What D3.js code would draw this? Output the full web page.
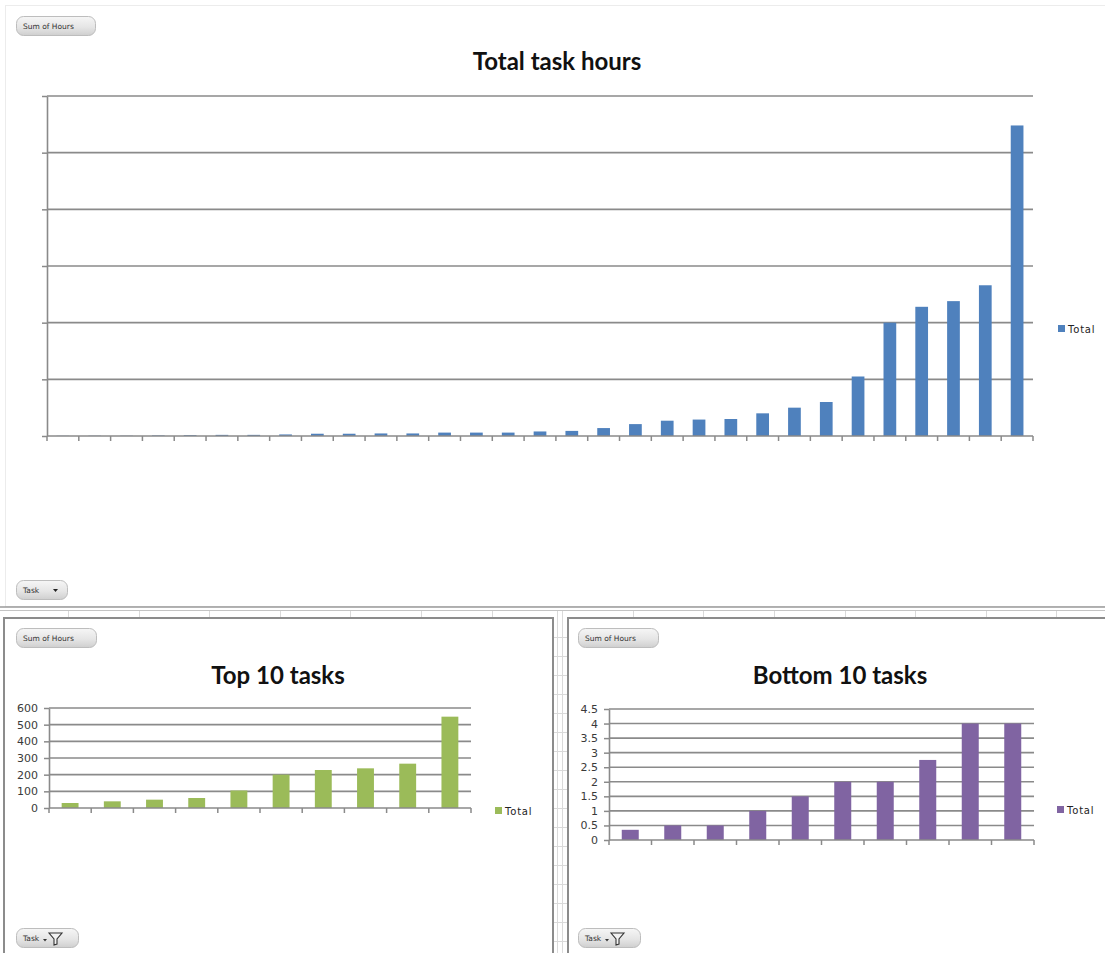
<!DOCTYPE html>
<html>
<head>
<meta charset="utf-8">
<script src="https://cdn.jsdelivr.net/npm/d3@7/dist/d3.min.js"></script>
<style>
  html, body { margin: 0; padding: 0; background: #fff; }
  svg { display: block; }
</style>
</head>
<body>
<svg id="sheet" width="1105" height="953"></svg>
<script>
// ---- Data: tasks sorted by total hours, ascending ----
const taskIds = ["T01","T02","T03","T04","T05","T06","T07","T08","T09","T10",
                 "T11","T12","T13","T14","T15","T16","T17","T18","T19","T20",
                 "T21","T22","T23","T24","T25","T26","T27","T28","T29","T30","T31"];
const totalHours = [0.35, 0.5, 0.5, 1, 1.5, 2, 2, 2.75, 4, 4,
                    4.5, 4.5, 6, 6, 6, 8, 9, 14, 21, 27,
                    29, 30, 40, 50, 60, 105, 200, 228, 238, 266, 548];

const topTaskIds = ["T22","T23","T24","T25","T26","T27","T28","T29","T30","T31"];
const topTaskHours = [30, 40, 50, 60, 105, 200, 228, 238, 266, 548];

const bottomTaskIds = ["T01","T02","T03","T04","T05","T06","T07","T08","T09","T10"];
const bottomTaskHours = [0.35, 0.5, 0.5, 1, 1.5, 2, 2, 2.75, 4, 4];

const hourTicks = [0, 100, 200, 300, 400, 500, 600];
const smallHourTicks = [0, 0.5, 1, 1.5, 2, 2.5, 3, 3.5, 4, 4.5];
const seriesName = "Total";

// ---- Styling ----
const GRID = "#8a8a8a";
const svg = d3.select("#sheet");

// ---- Worksheet backdrop: frames and cell grid ----
const back = svg.append("g");
back.append("rect").attr("x", 5.5).attr("y", 5.5).attr("width", 1110).attr("height", 601)
  .attr("fill", "#fff").attr("stroke", "#ececec");
back.append("line").attr("x1", 0).attr("x2", 1105).attr("y1", 607).attr("y2", 607)
  .attr("stroke", "#9a9a9a").attr("stroke-width", 1.5);
back.append("line").attr("x1", 0).attr("x2", 1105).attr("y1", 610.5).attr("y2", 610.5)
  .attr("stroke", "#c4c4c4");
// column separators in the strip between frames
const colLines = d3.range(68, 1105, 70.6);
back.selectAll("line.col").data(colLines).join("line").attr("class", "col")
  .attr("x1", d => Math.round(d) + 0.5).attr("x2", d => Math.round(d) + 0.5)
  .attr("y1", 611).attr("y2", 618).attr("stroke", "#dadada");
// narrow gap between the two lower frames
[557.5, 562.5].forEach(x => back.append("line").attr("x1", x).attr("x2", x)
  .attr("y1", 611).attr("y2", 953).attr("stroke", "#dadada"));
d3.range(637, 953, 19).forEach(y => back.append("line").attr("x1", 553).attr("x2", 568)
  .attr("y1", y + 0.5).attr("y2", y + 0.5).attr("stroke", "#dadada"));

// lower frames
back.append("rect").attr("x", 4).attr("y", 618).attr("width", 549).attr("height", 345)
  .attr("fill", "#fff").attr("stroke", "#8c8c8c").attr("stroke-width", 2);
back.append("rect").attr("x", 568).attr("y", 618).attr("width", 550).attr("height", 345)
  .attr("fill", "#fff").attr("stroke", "#8c8c8c").attr("stroke-width", 2);

// ---- Pivot field buttons ----
const defs = svg.append("defs");
const grad = defs.append("linearGradient").attr("id", "btnGrad")
  .attr("x1", 0).attr("x2", 0).attr("y1", 0).attr("y2", 1);
grad.append("stop").attr("offset", "0%").attr("stop-color", "#f6f6f6");
grad.append("stop").attr("offset", "55%").attr("stop-color", "#e6e6e6");
grad.append("stop").attr("offset", "100%").attr("stop-color", "#cfcfcf");

function fieldButton(x, y, w, label, kind) {
  const g = svg.append("g").attr("transform", `translate(${x},${y})`);
  g.append("rect").attr("x", 0.5).attr("y", 0.5).attr("width", w).attr("height", 19)
    .attr("rx", 7).attr("fill", "url(#btnGrad)").attr("stroke", "#bdbdbd");
  g.append("text").attr("x", 7).attr("y", 12.5).attr("font-family", "DejaVu Sans")
    .attr("font-size", 7.5).attr("fill", "#333").text(label);
  if (kind === "dropdown") {
    g.append("path").attr("d", "M37,9 L42,9 L39.5,12 Z").attr("fill", "#222");
  } else if (kind === "filter") {
    g.append("path").attr("d", "M27,11 L31,11 L29,13.5 Z").attr("fill", "#333");
    g.append("path").attr("d", "M33,5 L46,5 L41,11 L41,16 L38,17 L38,11 Z")
      .attr("fill", "#f2f2f2").attr("stroke", "#333").attr("stroke-width", 1.1);
  }
}
fieldButton(16, 16, 79, "Sum of Hours");
fieldButton(16, 580, 51, "Task", "dropdown");
fieldButton(16, 628, 80, "Sum of Hours");
fieldButton(578, 628, 80, "Sum of Hours");
fieldButton(16, 928, 62, "Task", "filter");
fieldButton(578, 928, 62, "Task", "filter");

// ---- Column chart drawing ----
function columnChart(cfg) {
  const g = svg.append("g");
  const slots = d3.scaleBand().domain(cfg.ids).range([cfg.x0, cfg.x1]).padding(0);
  const x = d3.scaleBand().domain(cfg.ids).range([cfg.x0, cfg.x1])
    .paddingInner(0.6).paddingOuter(0.3);
  const y = d3.scaleLinear().domain([0, d3.max(cfg.ticks)]).range([cfg.y1, cfg.y0]);

  // horizontal gridlines
  g.append("g").selectAll("line").data(cfg.ticks.filter(t => t > 0)).join("line")
    .attr("x1", cfg.x0).attr("x2", cfg.x1)
    .attr("y1", d => y(d)).attr("y2", d => y(d))
    .attr("stroke", GRID).attr("stroke-width", 1.6);

  // value axis
  const yAxis = d3.axisLeft(y).tickValues(cfg.ticks).tickSize(5).tickSizeOuter(0)
    .tickPadding(6).tickFormat(cfg.showLabels ? d => String(d) : () => "");
  const ya = g.append("g").attr("transform", `translate(${cfg.x0},0)`).call(yAxis);
  ya.select(".domain").attr("stroke", GRID).attr("stroke-width", 1.6);
  ya.selectAll(".tick line").attr("stroke", GRID).attr("stroke-width", 1.5);
  ya.selectAll(".tick text").attr("font-family", "DejaVu Sans").attr("font-size", 11)
    .attr("fill", "#3a3a3a");

  // bars
  g.append("g").selectAll("rect").data(cfg.values).join("rect")
    .attr("x", (d, i) => x(cfg.ids[i]))
    .attr("width", x.bandwidth())
    .attr("y", d => y(d))
    .attr("height", d => y(0) - y(d))
    .attr("fill", cfg.color);

  // category axis: baseline and tick marks at category boundaries
  g.append("line").attr("x1", cfg.x0).attr("x2", cfg.x1).attr("y1", y(0)).attr("y2", y(0))
    .attr("stroke", GRID).attr("stroke-width", 1.6);
  const bounds = cfg.ids.map(id => slots(id)).concat([cfg.x1]);
  g.append("g").selectAll("line").data(bounds).join("line")
    .attr("x1", d => d).attr("x2", d => d)
    .attr("y1", y(0)).attr("y2", y(0) + 5)
    .attr("stroke", GRID).attr("stroke-width", 1.5);

  // title
  g.append("text").attr("x", cfg.titleX).attr("y", cfg.titleY).attr("text-anchor", "middle")
    .attr("font-family", "Lato").attr("font-weight", 700).attr("font-size", cfg.titleSize)
    .attr("fill", "#111").text(cfg.title);

  // legend
  g.append("rect").attr("x", cfg.legendX).attr("y", cfg.legendY - 4)
    .attr("width", 7).attr("height", 7).attr("fill", cfg.color);
  g.append("text").attr("x", cfg.legendX + 10).attr("y", cfg.legendY + 3.5)
    .attr("font-family", "DejaVu Sans").attr("font-size", 10).attr("letter-spacing", 0.8)
    .attr("fill", "#222").text(seriesName);
}

columnChart({
  ids: taskIds, values: totalHours, ticks: hourTicks, showLabels: false,
  x0: 47, x1: 1033, y0: 96, y1: 436, color: "#4f81bd",
  title: "Total task hours", titleX: 557, titleY: 70, titleSize: 24,
  legendX: 1058, legendY: 329
});

columnChart({
  ids: topTaskIds, values: topTaskHours, ticks: hourTicks, showLabels: true,
  x0: 49, x1: 471, y0: 708, y1: 808, color: "#9bbb59",
  title: "Top 10 tasks", titleX: 278, titleY: 684, titleSize: 24,
  legendX: 495, legendY: 811
});

columnChart({
  ids: bottomTaskIds, values: bottomTaskHours, ticks: smallHourTicks, showLabels: true,
  x0: 609, x1: 1034, y0: 709, y1: 840, color: "#8064a2",
  title: "Bottom 10 tasks", titleX: 840, titleY: 684, titleSize: 24,
  legendX: 1057, legendY: 810
});
</script>
</body>
</html>
